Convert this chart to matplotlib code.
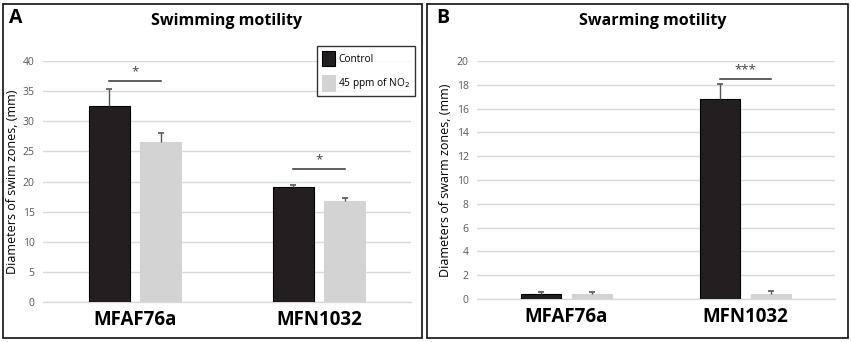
import numpy as np
import matplotlib.pyplot as plt
from matplotlib.patches import Rectangle

plt.rcParams['font.family'] = ['Open Sans', 'DejaVu Sans']

strains = ['MFAF76a', 'MFN1032']
legend_labels = ['Control', '45 ppm of NO$_2$']

# swimming motility (panel A)
swim_control = [32.6, 19.1]
swim_control_err = [2.8, 0.4]
swim_no2 = [26.6, 16.7]
swim_no2_err = [1.4, 0.5]
swim_signif = ['*', '*']
swim_signif_y = [36.7, 22.1]

# swarming motility (panel B)
swarm_control = [0.45, 16.8]
swarm_control_err = [0.1, 1.3]
swarm_no2 = [0.45, 0.45]
swarm_no2_err = [0.1, 0.25]
swarm_signif = [None, '***']
swarm_signif_y = [None, 18.5]

dark = '#231f20'
light = '#d3d3d3'
grid_c = '#d9d9d9'
tick_c = '#595959'

W, H = 851, 342
fig = plt.figure(figsize=(W / 100, H / 100), dpi=100)

# panel frames
for x0, x1 in [(3, 422), (427, 848)]:
    fig.patches.append(Rectangle((x0 / W, 4 / H), (x1 - x0) / W, (H - 8) / H,
                                 transform=fig.transFigure, fill=False,
                                 edgecolor='#222222', linewidth=1.3))


def panel(rect, ctrl, ctrl_err, no2, no2_err, signif, signif_y, ymax, step,
          ylabel, label_x, title, letter, title_x, letter_x, legend=False):
    ax = fig.add_axes(rect)
    x = np.arange(len(strains))
    w = 0.223
    off = 0.141
    zeros = np.zeros(len(strains))
    ax.bar(x - off, ctrl, w, color=dark, edgecolor='black', linewidth=0.8,
           label=legend_labels[0], zorder=3)
    ax.bar(x + off, no2, w, color=light, edgecolor=light, linewidth=0.8,
           label=legend_labels[1], zorder=3)
    for xs, ys, es in [(x - off, ctrl, ctrl_err), (x + off, no2, no2_err)]:
        _, caps, _ = ax.errorbar(xs, ys, yerr=[zeros, es], fmt='none',
                                 ecolor='#555555', elinewidth=1, capsize=2.2,
                                 capthick=1.2, zorder=4)
        caps[0].set_visible(False)

    for i, s in enumerate(signif):
        if s is None:
            continue
        top = signif_y[i]
        ax.plot([x[i] - off, x[i] + off], [top, top], color='#333333',
                linewidth=1.1, zorder=4)
        ax.text(x[i], top + ymax * 0.012, s, ha='center', va='bottom',
                fontsize=9.5, color='#444444')

    ax.set_xlim(-0.5, len(strains) - 0.5)
    ax.set_ylim(0, ymax)
    ax.set_yticks(np.arange(0, ymax + step / 2, step))
    ax.yaxis.grid(True, color=grid_c, linewidth=1, zorder=0)
    ax.set_axisbelow(True)
    for sp in ['top', 'right', 'left']:
        ax.spines[sp].set_visible(False)
    ax.spines['bottom'].set_color(grid_c)
    ax.spines['bottom'].set_linewidth(1)
    ax.tick_params(axis='y', length=0, labelsize=7.5, labelcolor=tick_c, pad=6)
    ax.tick_params(axis='x', length=0, pad=6)
    ax.set_xticks(x)
    ax.set_xticklabels(strains, fontsize=13.5, fontweight='bold')
    ax.set_ylabel(ylabel, fontsize=9)
    ax.yaxis.set_label_coords(label_x, 0.5)

    fig.text(title_x / W, 1 - 21 / H, title, ha='center', va='center',
             fontsize=11.5, fontweight='bold')
    fig.text(letter_x / W, 1 - 18 / H, letter, ha='left', va='center',
             fontsize=14, fontweight='bold')

    if legend:
        leg = ax.legend(loc='upper right', bbox_to_anchor=(1.011, 1.062),
                        borderaxespad=0, frameon=True, fancybox=False,
                        fontsize=7.3, handlelength=1.3, handleheight=2.0,
                        borderpad=0.45, labelspacing=0.9, handletextpad=0.35)
        leg.get_frame().set_edgecolor('black')
        leg.get_frame().set_linewidth(1)
    return ax


panel([43 / W, (H - 302) / H, (411 - 43) / W, 241 / H],
      swim_control, swim_control_err, swim_no2, swim_no2_err, swim_signif,
      swim_signif_y, 40, 5, 'Diameters of swim zones, (mm)', -0.065,
      'Swimming motility', 'A', 227, 9, legend=True)

panel([477 / W, (H - 299) / H, (835 - 477) / W, 238 / H],
      swarm_control, swarm_control_err, swarm_no2, swarm_no2_err, swarm_signif,
      swarm_signif_y, 20, 2, 'Diameters of swarm zones, (mm)', -0.07,
      'Swarming motility', 'B', 653, 436)

fig.savefig('out.png', dpi=100)
